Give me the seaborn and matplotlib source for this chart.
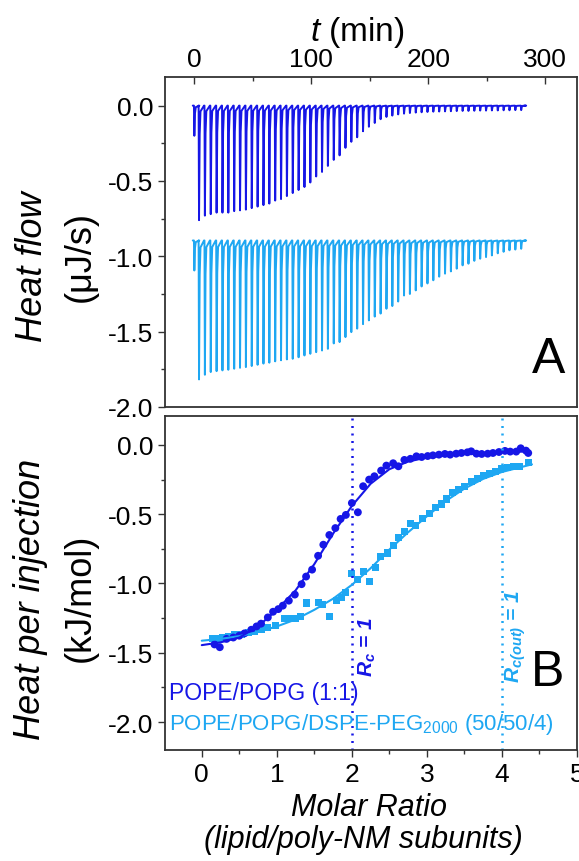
import numpy as np
import pandas as pd
import matplotlib
matplotlib.use("Agg")
import matplotlib.pyplot as plt
from matplotlib.ticker import MultipleLocator
import seaborn as sns

# ---------------- data ----------------
# Panel A: injection times (min) and peak heat-flow values (uJ/s)
inj_times = [0, 4, 9, 14, 19, 24, 29, 34, 39, 44, 49, 54, 59, 64, 69, 74, 79, 84, 89,
             94, 99, 104, 109, 114, 119, 124, 129, 134, 139, 144, 149, 154, 159, 164,
             169, 174, 179, 184, 189, 194, 199, 204, 209, 214, 219, 224, 229, 234,
             239, 244, 249, 254, 259, 264, 269, 274, 279]
dark_baseline = 0.0
dark_peaks = [-0.20, -0.76, -0.73, -0.72, -0.71, -0.71, -0.71, -0.70, -0.695, -0.69,
              -0.68, -0.67, -0.66, -0.65, -0.63, -0.62, -0.60, -0.58, -0.56, -0.54,
              -0.51, -0.47, -0.44, -0.40, -0.36, -0.33, -0.28, -0.24, -0.21, -0.17,
              -0.14, -0.115, -0.09, -0.075, -0.066, -0.058, -0.053, -0.049, -0.046,
              -0.044, -0.042, -0.040, -0.039, -0.038, -0.037, -0.036, -0.035, -0.035,
              -0.034, -0.033, -0.033, -0.032, -0.032, -0.031, -0.031, -0.030, -0.030]
light_baseline = -0.895
light_peaks = [-1.094, -1.817, -1.786, -1.768, -1.762, -1.757, -1.753, -1.746, -1.740,
               -1.735, -1.728, -1.72, -1.712, -1.706, -1.697, -1.690, -1.684, -1.68,
               -1.67, -1.658, -1.647, -1.636, -1.625, -1.614, -1.578, -1.569, -1.536,
               -1.503, -1.48, -1.45, -1.425, -1.40, -1.38, -1.348, -1.33, -1.30, -1.26,
               -1.25, -1.226, -1.20, -1.18, -1.159, -1.135, -1.115, -1.10, -1.082, -1.06,
               -1.049, -1.03, -1.016, -1.005, -0.994, -0.98, -0.97, -0.96, -0.955, -0.95]

# Panel B: integrated heats (kJ/mol) vs molar ratio
dark_x = [0.17, 0.24, 0.33, 0.42, 0.50, 0.57, 0.66, 0.73, 0.79, 0.88, 0.95, 1.02, 1.08,
          1.16, 1.24, 1.33, 1.39, 1.47, 1.55, 1.62, 1.70, 1.78, 1.85, 1.92, 2.00, 2.08,
          2.15, 2.23, 2.30, 2.39, 2.46, 2.55, 2.62, 2.70, 2.78, 2.86, 2.93, 3.01, 3.08,
          3.16, 3.24, 3.31, 3.39, 3.46, 3.54, 3.59, 3.66, 3.73, 3.81, 3.88, 3.96, 4.04,
          4.11, 4.19, 4.25, 4.32, 4.35]
dark_y = [-1.44, -1.46, -1.40, -1.39, -1.377, -1.36, -1.334, -1.31, -1.29, -1.245,
          -1.204, -1.185, -1.16, -1.124, -1.08, -1.005, -0.95, -0.90, -0.80, -0.72,
          -0.65, -0.60, -0.534, -0.505, -0.419, -0.486, -0.298, -0.25, -0.226, -0.185,
          -0.149, -0.132, -0.154, -0.108, -0.10, -0.082, -0.087, -0.08, -0.075, -0.07,
          -0.065, -0.07, -0.063, -0.058, -0.053, -0.046, -0.063, -0.065, -0.063, -0.058,
          -0.051, -0.043, -0.048, -0.048, -0.024, -0.041, -0.058]
light_x = [0.14, 0.22, 0.28, 0.36, 0.44, 0.53, 0.62, 0.70, 0.79, 0.88, 0.98, 1.10, 1.17,
           1.25, 1.32, 1.40, 1.55, 1.61, 1.70, 1.79, 1.86, 1.92, 2.00, 2.08, 2.15, 2.23,
           2.31, 2.38, 2.47, 2.55, 2.62, 2.70, 2.78, 2.85, 2.94, 3.03, 3.11, 3.19, 3.26,
           3.34, 3.42, 3.50, 3.59, 3.67, 3.75, 3.83, 3.91, 3.99, 4.07, 4.15, 4.23, 4.35]
light_y = [-1.40, -1.396, -1.391, -1.381, -1.372, -1.365, -1.352, -1.348, -1.329, -1.316,
           -1.305, -1.256, -1.251, -1.251, -1.237, -1.141, -1.136, -1.155, -1.237, -1.124,
           -1.10, -1.064, -0.927, -0.968, -0.914, -0.987, -0.883, -0.804, -0.78, -0.727,
           -0.667, -0.626, -0.570, -0.582, -0.534, -0.498, -0.45, -0.426, -0.39, -0.342,
           -0.323, -0.298, -0.265, -0.24, -0.222, -0.209, -0.193, -0.173, -0.161, -0.154,
           -0.154, -0.125]
dark_fit_x = [0, 0.25, 0.5, 0.75, 1.0, 1.25, 1.5, 1.75, 2.0, 2.25, 2.5, 2.75, 3.0, 3.5, 4.0, 4.35]
dark_fit_y = [-1.445, -1.425, -1.39, -1.31, -1.19, -1.05, -0.86, -0.64, -0.44, -0.28,
              -0.175, -0.12, -0.09, -0.065, -0.052, -0.047]
light_fit_x = [0, 0.25, 0.5, 0.75, 1.0, 1.25, 1.5, 1.75, 2.0, 2.25, 2.5, 2.75, 3.0, 3.25,
               3.5, 3.75, 4.0, 4.4]
light_fit_y = [-1.413, -1.40, -1.38, -1.35, -1.31, -1.26, -1.19, -1.11, -1.01, -0.89,
               -0.755, -0.63, -0.515, -0.405, -0.315, -0.245, -0.195, -0.14]
rc_dark = 2.0
rc_light = 4.0

DARK = "#1616e6"
LIGHT = "#1ea7f2"

# ---------------- style ----------------
sns.set_theme(style="ticks")
plt.rcParams["font.family"] = ["Liberation Sans", "DejaVu Sans"]
plt.rcParams["axes.unicode_minus"] = False
plt.rcParams["text.color"] = "black"
plt.rcParams["xtick.labelcolor"] = "black"
plt.rcParams["ytick.labelcolor"] = "black"
plt.rcParams["xtick.color"] = "#333333"
plt.rcParams["ytick.color"] = "#333333"
plt.rcParams["mathtext.fontset"] = "custom"
plt.rcParams["mathtext.rm"] = "Liberation Sans"
plt.rcParams["mathtext.it"] = "Liberation Sans:italic"
plt.rcParams["mathtext.bf"] = "Liberation Sans:bold"
plt.rcParams["mathtext.bfit"] = "Liberation Sans:italic:bold"

W, H = 579, 862
fig = plt.figure(figsize=(W / 100, H / 100), dpi=100)

def fx(px):
    return px / W

def fy(py):
    return 1 - py / H

ax1 = fig.add_axes([fx(165), fy(408), (577 - 165) / W, (408 - 78) / H])
ax2 = fig.add_axes([fx(165), fy(751), (577 - 165) / W, (751 - 417) / H])


def build_trace(times, peaks, base):
    ts, ys = [times[0] - 1.0], [base]
    for t, p in zip(times, peaks):
        d = p - base
        ts += [t, t + 0.35, t + 0.9, t + 1.6, t + 4.6]
        ys += [base, p, base + 0.25 * d, base + 0.05 * d, base]
    ts.append(times[-1] + 3.0)
    ys.append(base)
    return pd.DataFrame({"t": ts, "q": ys})


dark_tr = build_trace(inj_times, dark_peaks, dark_baseline)
light_tr = build_trace(inj_times, light_peaks, light_baseline)

sns.lineplot(data=dark_tr, x="t", y="q", ax=ax1, color=DARK, lw=1.4, sort=False,
             estimator=None)
sns.lineplot(data=light_tr, x="t", y="q", ax=ax1, color=LIGHT, lw=1.4, sort=False,
             estimator=None)

ax1.set_xlim(-24.7, 327)
ax1.set_ylim(-2.0, 0.19)
ax1.xaxis.tick_top()
ax1.xaxis.set_major_locator(MultipleLocator(100))
ax1.xaxis.set_minor_locator(MultipleLocator(50))
ax1.yaxis.set_major_locator(MultipleLocator(0.5))
ax1.yaxis.set_minor_locator(MultipleLocator(0.25))
ax1.yaxis.set_major_formatter(matplotlib.ticker.FormatStrFormatter("%.1f"))
ax1.tick_params(axis="x", which="both", direction="in", top=True, bottom=False,
                labeltop=True, labelbottom=False, labelsize=19, pad=4)
ax1.tick_params(axis="x", which="major", length=5, width=1)
ax1.tick_params(axis="x", which="minor", length=3, width=1)
ax1.tick_params(axis="y", which="both", direction="out", labelsize=19, width=1)
ax1.tick_params(axis="y", which="major", length=5)
ax1.tick_params(axis="y", which="minor", length=3)
ax1.set_xlabel("")
ax1.set_ylabel("")

# Panel B
dfd = pd.DataFrame({"x": dark_x, "y": dark_y})
dfl = pd.DataFrame({"x": light_x, "y": light_y})
fd = pd.DataFrame({"x": dark_fit_x, "y": dark_fit_y})
fl = pd.DataFrame({"x": light_fit_x, "y": light_fit_y})

ax2.axvline(rc_dark, color=DARK, lw=1.8, ls=(0, (0.8, 2.2)))
ax2.axvline(rc_light, color=LIGHT, lw=1.8, ls=(0, (0.8, 2.2)))
sns.lineplot(data=fl, x="x", y="y", ax=ax2, color=LIGHT, lw=1.5, estimator=None)
sns.lineplot(data=fd, x="x", y="y", ax=ax2, color=DARK, lw=1.5, estimator=None)
sns.scatterplot(data=dfl, x="x", y="y", ax=ax2, color=LIGHT, marker="s", s=26,
                edgecolor="none", linewidth=0)
sns.scatterplot(data=dfd, x="x", y="y", ax=ax2, color=DARK, marker="o", s=32,
                edgecolor="none", linewidth=0)

ax2.set_xlim(-0.49, 5.0)
ax2.set_ylim(-2.202, 0.209)
ax2.xaxis.set_major_locator(MultipleLocator(1))
ax2.xaxis.set_minor_locator(MultipleLocator(0.5))
ax2.yaxis.set_major_locator(MultipleLocator(0.5))
ax2.yaxis.set_minor_locator(MultipleLocator(0.25))
ax2.yaxis.set_major_formatter(matplotlib.ticker.FormatStrFormatter("%.1f"))
ax2.tick_params(axis="both", which="both", direction="out", labelsize=19, width=1)
ax2.tick_params(axis="both", which="major", length=5)
ax2.tick_params(axis="both", which="minor", length=3)
ax2.set_xlabel("")
ax2.set_ylabel("")

for ax in (ax1, ax2):
    for sp in ax.spines.values():
        sp.set_visible(True)
        sp.set_color("#333333")
        sp.set_linewidth(1.3)

# annotations in panel B
ax2.text(2.21, -1.45, r"$\mathbfit{R_c}$ = 1", color=DARK, rotation=90,
         fontsize=15, fontweight="bold", style="italic", ha="center", va="center")
ax2.text(4.19, -1.38, r"$\mathbfit{R_{c(out)}}$ = 1", color=LIGHT, rotation=90,
         fontsize=15, fontweight="bold", style="italic", ha="center", va="center")
ax2.text(-0.44, -1.785, "POPE/POPG (1:1)", color=DARK, fontsize=16.5,
         ha="left", va="center")
ax2.text(-0.44, -2.01, r"POPE/POPG/DSPE-PEG$_{2000}$ (50/50/4)", color=LIGHT,
         fontsize=16, ha="left", va="center")

# figure-level labels
fig.text(fx(357), fy(32), r"$t$ (min)", fontsize=24, ha="center", va="center")
fig.text(fx(33), fy(267), "Heat flow", fontsize=26, style="italic", rotation=90,
         ha="center", va="center")
fig.text(fx(80), fy(257), "(μJ/s)", fontsize=26, rotation=90, ha="center", va="center")
fig.text(fx(31), fy(599), "Heat per injection", fontsize=26, style="italic",
         rotation=90, ha="center", va="center")
fig.text(fx(80), fy(598), "(kJ/mol)", fontsize=26, rotation=90, ha="center",
         va="center")
fig.text(fx(369), fy(808), "Molar Ratio", fontsize=22, style="italic",
         ha="center", va="center")
fig.text(fx(363), fy(840), "(lipid/poly-NM subunits)", fontsize=22, style="italic",
         ha="center", va="center")
fig.text(fx(549), fy(360), "A", fontsize=36, ha="center", va="center")
fig.text(fx(548), fy(673), "B", fontsize=36, ha="center", va="center")

fig.savefig("out.png", dpi=100)
